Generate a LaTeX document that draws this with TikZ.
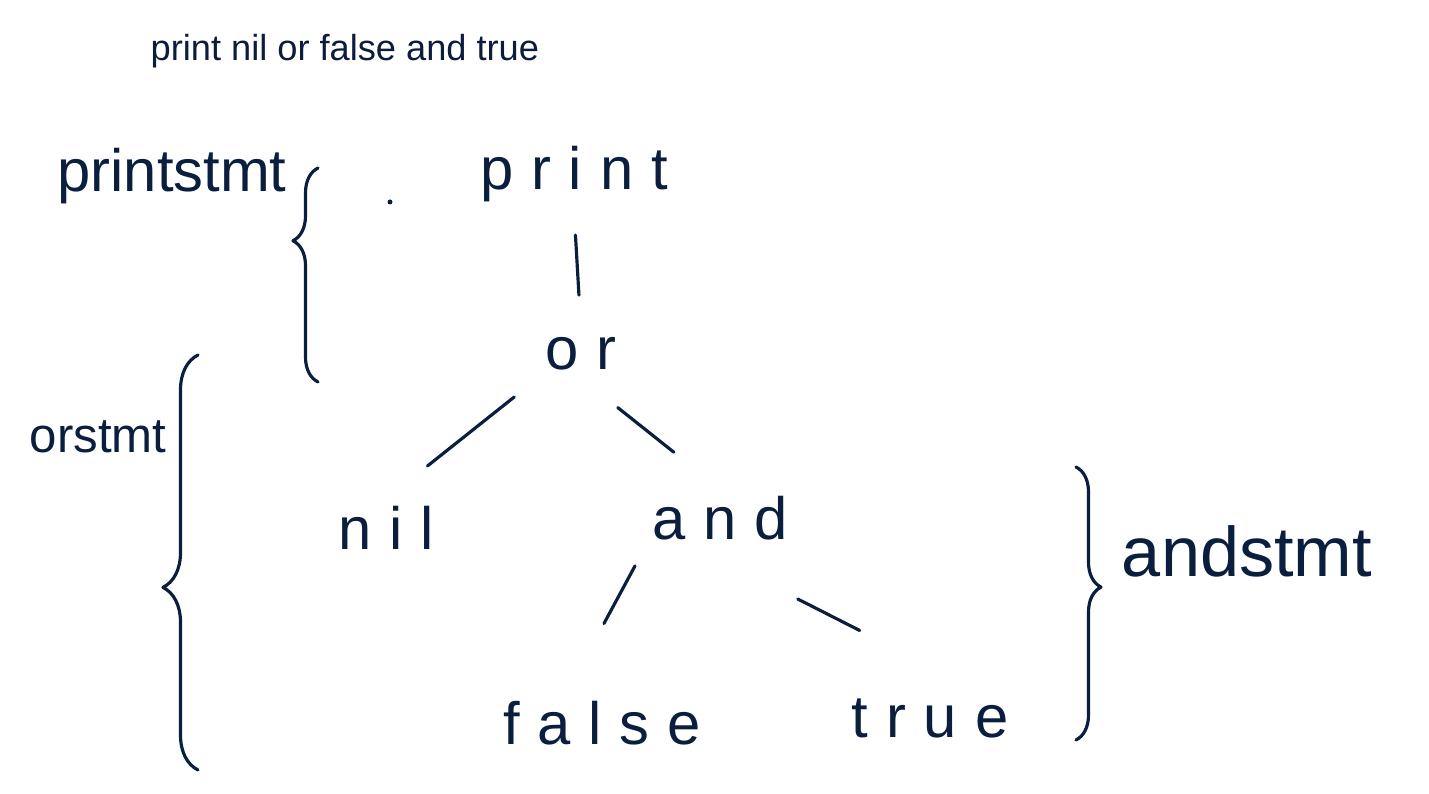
\documentclass[tikz,border=0pt]{standalone}
\usepackage{fontspec}
\setmainfont{Liberation Sans}
\newfontfamily\handfont[LetterSpace=30]{Liberation Sans}
\newfontfamily\handlabelfont{Liberation Sans}
\usetikzlibrary{decorations.pathreplacing}
\definecolor{ink}  {RGB}{10,30,62}
\definecolor{tink} {RGB}{12,28,58}
\tikzset{
    word/.style={font=\handfont\fontsize{17}{20}\selectfont, text=ink, anchor=base, inner sep=2pt},
    tag/.style={text=ink, anchor=base, inner sep=2pt},
    branch/.style={draw=ink, line width=0.9pt, line cap=round},
    curly/.style={decorate, draw=ink, line width=0.9pt, line cap=round, line join=round,
             decoration={brace, amplitude=3mm}
    }
  }
\begin{document}
\begin{tikzpicture}[x=0.1mm, y=-0.1mm]
 \useasboundingbox (0,0) rectangle (1429,794);
 %heading
     \node[font=\fontsize{10.3}{12}\selectfont, text=tink, anchor=base west, inner sep=0pt] (title) at (150,61) {print nil or false and true};
 %tree
     \node[word] (print) at (574,190) {print};
     \node[word] (or)    at (581,370) {or};
     \node[word] (nil)   at (386,550) {nil};
     \node[word] (and)   at (720,540) {and};
     \node[word] (false) at (602,745) {false};
     \node[word] (true)  at (930,738) {true};
 %labels
     \node[tag, font=\handlabelfont\fontsize{17}{20}\selectfont] (printstmt) at (172,192) {printstmt};
     \node[tag, font=\handlabelfont\fontsize{14}{17}\selectfont] (orstmt) at (98,453) {orstmt};
     \node[tag, font=\handlabelfont\fontsize{20}{24}\selectfont] (andstmt) at (1247,577) {andstmt};
 %branches
     \draw[branch, shorten <=2.5mm, shorten >=3.5mm] (print.south) -- (or.north);
     \draw[branch, shorten <=3mm, shorten >=5.3mm] (or.south west) -- (nil.north);
     \draw[branch, shorten <=4.7mm, shorten >=5.9mm] (or.south) -- (and.north);
     \draw[branch, shorten <=2mm, shorten >=8mm] (and.south west) -- ([xshift=-3.6mm]false.north);
     \draw[branch, shorten <=11.2mm, shorten >=13.5mm] ([xshift=-2.2mm]and.south) -- ([xshift=5mm]true.north);
 %braces
     \draw[curly, decoration={aspect=0.66, amplitude=2.5mm}] (318,382) -- (318,168);
     \draw[curly, decoration={aspect=0.44, amplitude=3.5mm}] (198,770) -- (198,355);
     \draw[curly, decoration={aspect=0.44, amplitude=2.5mm}] (1076,467) -- (1076,740);
 %stray dot
     \fill[ink] (390,202) circle (2.5);
\end{tikzpicture}
\end{document}
